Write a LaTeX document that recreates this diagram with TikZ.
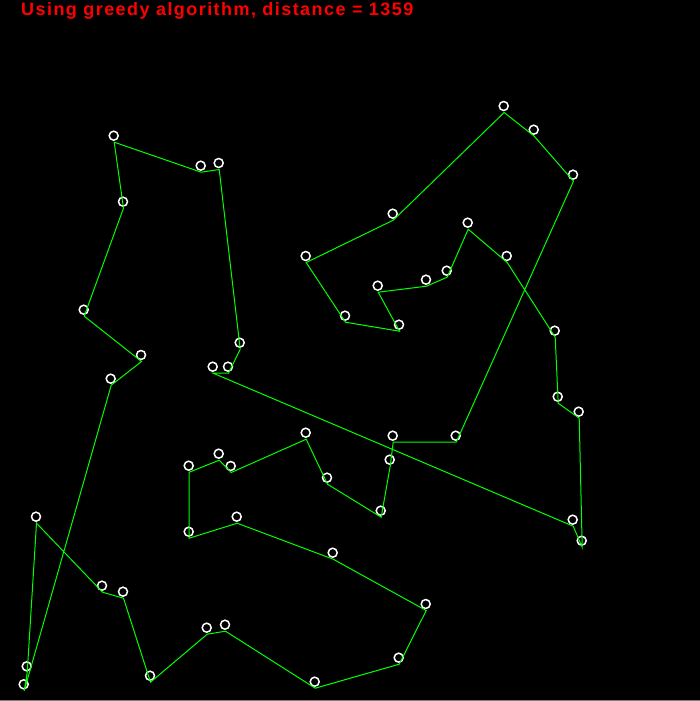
\documentclass[tikz,border=0pt]{standalone}
\usepackage{fontspec}
\newfontfamily\titlefont[LetterSpace=8]{Liberation Sans}

\begin{document}
\begin{tikzpicture}
[x=1pt, y=-1pt,
city/.style={circle, draw=white, line width=1.5pt, minimum size=9pt, inner sep=0pt},
tour/.style={draw=green, line width=1pt},
caption/.style={text=red, font=\titlefont\bfseries\fontsize{18}{20}\selectfont, anchor=base west, inner sep=0pt}]

\fill[black] (0,0) rectangle (700,701);
\fill[black!50] (0,700) rectangle (700,701);

\node[caption] (title) at (21,15.7) {Using greedy algorithm, distance = 1359};

% cities, in the order the greedy tour visits them
\foreach \n/\x/\y in {1/113.7/135.7, 2/123/201.7, 3/83.7/309.7, 4/141/355, 5/110.7/378.7,
  6/23.7/684.3, 7/26.7/666.3, 8/36/516.7, 9/102/585.7, 10/123/591.7,
  11/150/675.7, 12/206.7/627.7, 13/225/624.7, 14/314.7/681.7, 15/398.7/657.7,
  16/425.7/604, 17/332.7/552.7, 18/236.7/516.7, 19/188.7/531.7, 20/188.7/465.7,
  21/218.7/453.7, 22/230.7/466, 23/305.7/432.7, 24/327/477.7, 25/380.7/510.7,
  26/389.7/459.7, 27/392.7/435.7, 28/455.7/435.7, 29/573/174.7, 30/533.7/129.7,
  31/503.7/106, 32/392.7/213.7, 33/305.7/256, 34/345/315.7, 35/399/324.7,
  36/377.7/285.7, 37/426/279.7, 38/446.7/270.7, 39/467.7/222.7, 40/506.7/256,
  41/554.7/330.7, 42/557.7/396.7, 43/578.7/411.7, 44/581.7/540.7, 45/572.7/519.7,
  46/212.7/366.7, 47/228/366.7, 48/239.7/342.7, 49/218.7/163, 50/200.7/165.7}{
  \node[city] (c\n) at (\x,\y) {};
  \coordinate (v\n) at ([shift={(0.5,6.5)}]c\n.center);
}

% the tour
\draw[tour] (v1) \foreach \n in {2,...,50}{ -- (v\n)} -- cycle;
\end{tikzpicture}
\end{document}
